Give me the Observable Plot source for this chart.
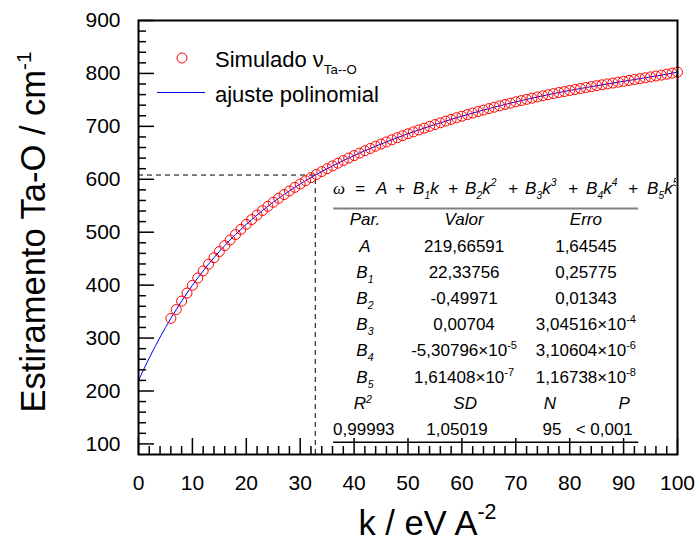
<!DOCTYPE html>
<html><head><meta charset="utf-8">
<script src="https://cdn.jsdelivr.net/npm/d3@7"></script>
<script src="https://cdn.jsdelivr.net/npm/@observablehq/plot@0.6"></script>
<style>body{margin:0;background:#fff} svg{display:block}</style>
</head><body><div id="chart"></div>
<script>
// ---------- data ----------
const simK = [6,7,8,9,10,11,12,13,14,15,16,17,18,19,20,21,22,23,24,25,26,27,28,29,30,
  31,32,33,34,35,36,37,38,39,40,41,42,43,44,45,46,47,48,49,50,51,52,53,54,55,56,57,58,59,60,
  61,62,63,64,65,66,67,68,69,70,71,72,73,74,75,76,77,78,79,80,81,82,83,84,85,86,87,88,89,90,
  91,92,93,94,95,96,97,98,99,100];
const simOmega = [337.2,353.8,369.8,385.0,399.6,413.5,426.9,439.6,451.8,463.5,474.7,485.4,495.6,505.5,514.9,
  523.9,532.6,540.9,548.9,556.6,564.1,571.2,578.0,584.7,591.1,597.2,603.2,609.0,614.6,620.0,
  625.3,630.4,635.3,640.2,644.8,649.4,653.9,658.2,662.5,666.6,670.6,674.6,678.5,682.3,686.0,
  689.6,693.2,696.6,700.1,703.4,706.7,709.9,713.1,716.2,719.2,722.2,725.1,728.0,730.7,733.5,
  736.2,738.8,741.3,743.8,746.3,748.7,751.0,753.3,755.5,757.7,759.8,761.9,763.9,765.8,767.8,
  769.7,771.5,773.3,775.1,776.8,778.5,780.2,781.8,783.5,785.1,786.7,788.4,790.0,791.7,793.4,
  795.1,796.8,798.6,800.5,802.5];
const fitHeadK = [0,1,2,3,4,5];
const fitHeadOmega = [219.7,241.5,262.4,282.4,301.5,319.7];

const xMajor = [0,10,20,30,40,50,60,70,80,90,100];
const xMinor = [2,4,6,8,12,14,16,18,22,24,26,28,32,34,36,38,42,44,46,48,52,54,56,58,62,64,66,68,72,74,76,78,82,84,86,88,92,94,96,98];
const yMajor = [100,200,300,400,500,600,700,800,900];
const yMinor = [120,140,160,180,220,240,260,280,320,340,360,380,420,440,460,480,520,540,560,580,620,640,660,680,720,740,760,780,820,840,860,880];

const markK = 32.8, markOmega = 608;

const legendLabels = ["Simulado ν", "Ta--O", "ajuste polinomial"];
const xLabel = ["k / eV A", "-2"];
const yLabel = ["Estiramento Ta-O / cm", "-1"];

const headers = ["Par.", "Valor", "Erro"];
const parNames = ["A", "B1", "B2", "B3", "B4", "B5"];
const parValues = ["219,66591", "22,33756", "-0,49971", "0,00704", "-5,30796×10^-5", "1,61408×10^-7"];
const parErrors = ["1,64545", "0,25775", "0,01343", "3,04516×10^-4", "3,10604×10^-6", "1,16738×10^-8"];
const statNames = ["R^2", "SD", "N", "P"];
const statValues = ["0,99993", "1,05019", "95", "< 0,001"];

// table anchors (data units)
const tableK = [36.2, 92.8];
const tableRuleOmega = [545, 103];
const colK = [42.1, 60.5, 83.1];
const statNameK = [41.7, 60.7, 76.4, 90.2];
const statValK = [41.9, 59.2, 76.8, 86.5];
const rowOmega = [524, 474, 425, 375, 326, 277, 226, 176, 127];
const eqOmega = 572;

// ---------- build ----------
const sim = simK.map((k, i) => ({k, w: simOmega[i]}));
const fit = fitHeadK.map((k, i) => ({k, w: fitHeadOmega[i]})).concat(sim);

const FONT = "'Liberation Sans', Arial, sans-serif";
const TICK = 21;

const plot = Plot.plot({
  width: 696, height: 542,
  marginLeft: 138, marginRight: 19, marginTop: 20, marginBottom: 88,
  x: {domain: [0, 100]},
  y: {domain: [80, 900]},
  style: {fontFamily: FONT, background: "white", color: "black"},
  marks: [
    Plot.ruleY([markOmega], {x1: 0, x2: markK, stroke: "black", strokeWidth: 1, strokeDasharray: "5,4"}),
    Plot.ruleX([markK], {y1: 80, y2: markOmega, stroke: "black", strokeWidth: 1, strokeDasharray: "5,4"}),
    Plot.line(fit, {x: "k", y: "w", stroke: "#0000ff", strokeWidth: 1}),
    Plot.dot(sim, {x: "k", y: "w", r: 5, stroke: "#ff0000", fill: "none", strokeWidth: 1}),
    Plot.ruleY([tableRuleOmega[0]], {x1: tableK[0], x2: tableK[1], stroke: "#808080", strokeWidth: 2}),
    Plot.ruleY([tableRuleOmega[1]], {x1: tableK[0], x2: tableK[1], stroke: "black", strokeWidth: 1.5}),
    Plot.axisX(xMinor, {tickSize: -8, tickFormat: () => "", strokeWidth: 1.5, label: null}),
    Plot.axisX(xMajor, {tickSize: -16, tickFormat: () => "", strokeWidth: 1.5, label: null}),
    Plot.axisX(xMajor, {tickSize: 0, tickPadding: 21, fontSize: TICK, label: null}),
    Plot.axisY(yMinor, {tickSize: -8, tickFormat: () => "", strokeWidth: 1.5, label: null}),
    Plot.axisY(yMajor, {tickSize: -16, tickFormat: () => "", strokeWidth: 1.5, label: null}),
    Plot.axisY(yMajor, {tickSize: 0, tickPadding: 18, fontSize: TICK, label: null}),
    Plot.frame({stroke: "black", strokeWidth: 2})
  ]
});
document.getElementById("chart").appendChild(plot);

const sx = plot.scale("x"), sy = plot.scale("y");
const X = v => sx.apply(v), Y = v => sy.apply(v);
const svg = d3.select(plot);
const g = svg.append("g").attr("font-family", FONT).attr("fill", "black");

function parts(s, kind) {
  if (s.includes("^")) { const [a, b] = s.split("^"); return [[a, "n"], [b, "sup"]]; }
  if (kind === "name" && /^B\d$/.test(s)) return [["B", "n"], [s[1], "sub"]];
  return [[s, "n"]];
}
function rich(parent, x, y, ps, size, {anchor = "start", italic = false, small = 0.65, sub = 0.3, sup = 0.42, family = null} = {}) {
  const t = parent.append("text").attr("x", x).attr("y", y).attr("font-size", size)
    .attr("text-anchor", anchor).attr("font-style", italic ? "italic" : "normal");
  if (family) t.attr("font-family", family);
  let cur = 0;
  for (const [s, kind] of ps) {
    const off = kind === "sub" ? size * sub : kind === "sup" ? -size * sup : 0;
    t.append("tspan").attr("dy", off - cur).attr("font-size", kind === "n" ? size : size * small).text(s);
    cur = off;
  }
  return t;
}

// axis labels
const frameL = X(0), frameR = X(100), frameT = Y(900), frameB = Y(80);
rich(g, (frameL + frameR) / 2 + 20, 535, [[xLabel[0], "n"], [xLabel[1], "sup"]], 34.5, {anchor: "middle", small: 0.62, sup: 0.45});
rich(g.append("g").attr("transform", `translate(45,232) rotate(-90)`), 0, 0,
  [[yLabel[0], "n"], [yLabel[1], "sup"]], 34.5, {anchor: "middle", small: 0.6, sup: 0.4});

// legend
const lg = g.append("g");
lg.append("circle").attr("cx", frameL + 44).attr("cy", frameT + 38).attr("r", 5)
  .attr("fill", "none").attr("stroke", "#ff0000");
rich(lg, frameL + 77, frameT + 46.5, [[legendLabels[0], "n"], [legendLabels[1], "sub"]], 22, {small: 0.6, sub: 0.33});
lg.append("line").attr("x1", frameL + 19).attr("x2", frameL + 67).attr("y1", frameT + 72.5).attr("y2", frameT + 72.5)
  .attr("stroke", "#0000ff").attr("stroke-width", 1);
rich(lg, frameL + 77, frameT + 81.5, [[legendLabels[2], "n"]], 22);

// equation (clipped to frame)
svg.append("clipPath").attr("id", "frameclip").append("rect")
  .attr("x", frameL).attr("y", frameT).attr("width", frameR - frameL - 1).attr("height", frameB - frameT);
const eq = g.append("g").attr("clip-path", "url(#frameclip)");
const eqX = X(tableK[0]), eqY = Y(eqOmega);
const eqTokens = [
  [0, [["ω", "n"]]], [22, [["=", "n"]]], [43, [["A", "n"]]], [62, [["+", "n"]]],
  [80, [["B", "n"], ["1", "sub"], ["k", "n"]]], [115, [["+", "n"]]],
  [132, [["B", "n"], ["2", "sub"], ["k", "n"], ["2", "sup"]]], [175, [["+", "n"]]],
  [192, [["B", "n"], ["3", "sub"], ["k", "n"], ["3", "sup"]]], [235, [["+", "n"]]],
  [253, [["B", "n"], ["4", "sub"], ["k", "n"], ["4", "sup"]]], [295, [["+", "n"]]],
  [314, [["B", "n"], ["5", "sub"], ["k", "n"], ["5", "sup"]]]
];
for (const [dx, ps] of eqTokens) rich(eq, eqX + dx, eqY, ps, 17, {italic: true, small: 0.6, sub: 0.3, sup: 0.45,
  family: ps[0][0] === "ω" ? "'Liberation Serif', serif" : null});

// table
const TS = 17, base = 0.36 * TS;
headers.forEach((h, i) => rich(g, X(colK[i]), Y(rowOmega[0]) + base, [[h, "n"]], TS, {anchor: "middle", italic: true}));
parNames.forEach((n, r) => {
  const y = Y(rowOmega[r + 1]) + base;
  rich(g, X(colK[0]), y, parts(n, "name"), TS, {anchor: "middle", italic: true, small: 0.62, sub: 0.3});
  rich(g, X(colK[1]), y, parts(parValues[r], "val"), TS, {anchor: "middle", small: 0.65, sup: 0.4});
  rich(g, X(colK[2]), y, parts(parErrors[r], "val"), TS, {anchor: "middle", small: 0.65, sup: 0.4});
});
statNames.forEach((n, i) => rich(g, X(statNameK[i]), Y(rowOmega[7]) + base, parts(n, "name"), TS,
  {anchor: "middle", italic: true, small: 0.62, sup: 0.4}));
statValues.forEach((v, i) => rich(g, X(statValK[i]), Y(rowOmega[8]) + base, [[v, "n"]], TS, {anchor: "middle"}));
</script></body></html>
